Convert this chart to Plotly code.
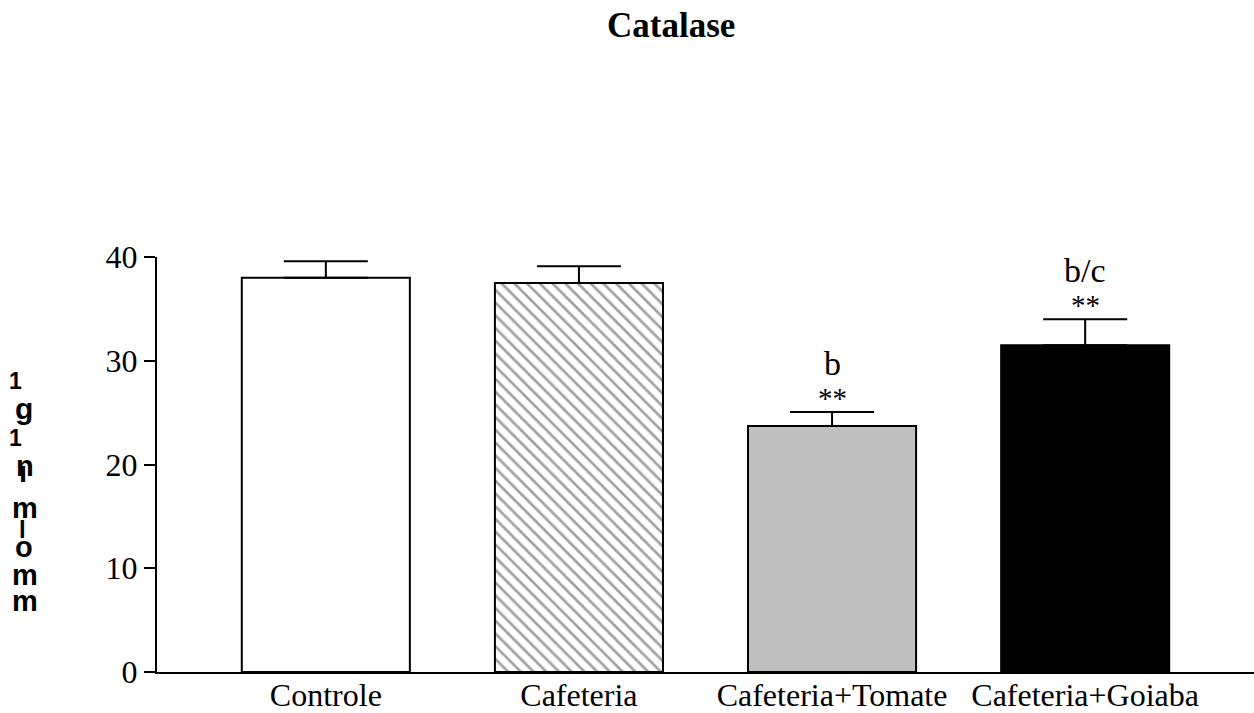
import plotly.graph_objects as go

# Catalase activity per group (mean and SEM)
groups = ["Controle", "Cafeteria", "Cafeteria+Tomate", "Cafeteria+Goiaba"]
means = [38.0, 37.5, 23.7, 31.5]
sem = [1.6, 1.6, 1.35, 2.5]
fills = ["white", "white", "#c0c0c0", "black"]
patterns = ["", "\\", "", ""]
stars = ["", "", "**", "**"]
letters = ["", "", "b", "b/c"]
y_ticks = [0, 10, 20, 30, 40]

W, H = 1254, 713
L, R, T, B = 157, 0, 257, 41
pw, ph = W - L - R, H - T - B

SERIF = "Liberation Serif, Times New Roman, serif"
SANS = "Liberation Sans, Arial, sans-serif"

fig = go.Figure()
fig.add_trace(go.Bar(
    x=list(range(len(groups))),
    y=means,
    width=0.664,
    marker=dict(
        color=fills,
        line=dict(color="black", width=2),
        pattern=dict(shape=patterns, size=9, solidity=0.3,
                     fgcolor="black", bgcolor="white"),
    ),
    error_y=dict(type="data", symmetric=False, array=sem,
                 arrayminus=[0] * len(sem), color="black",
                 thickness=2, width=42),
    cliponaxis=False,
    showlegend=False,
))

annotations = []
for i, (m, s, st, lt) in enumerate(zip(means, sem, stars, letters)):
    top = m + s
    if st:
        annotations.append(dict(x=i, y=top, xref="x", yref="y", text=st,
                                showarrow=False, yanchor="middle", yshift=14,
                                font=dict(family=SERIF, size=29, color="black")))
    if lt:
        annotations.append(dict(x=i, y=top, xref="x", yref="y", text=lt,
                                showarrow=False, yanchor="middle", yshift=49,
                                font=dict(family=SERIF, size=34, color="black")))

# Title
annotations.append(dict(x=(671 - L) / pw, y=(H - B - 25) / ph, xref="paper", yref="paper",
                        text="<b>Catalase</b>", showarrow=False,
                        xanchor="center", yanchor="middle",
                        font=dict(family=SERIF, size=35, color="black")))

# Vertical unit label, stacked glyphs
unit_glyphs = [
    ("1", 15, 381, 23), ("g", 24, 408, 30), ("1", 15, 438, 23),
    ("n", 25, 466, 29), ("ı", 23, 472, 29), ("m", 25, 508, 29),
    ("l", 22, 529, 24), ("o", 24, 547, 29), ("m", 25, 575, 29), ("m", 25, 601, 29),
]
for ch, px, py, sz in unit_glyphs:
    annotations.append(dict(x=(px - L) / pw, y=(H - B - py) / ph,
                            xref="paper", yref="paper", text="<b>" + ch + "</b>",
                            showarrow=False, xanchor="center", yanchor="middle",
                            font=dict(family=SANS, size=sz, color="black")))

fig.update_layout(
    width=W, height=H,
    margin=dict(l=L, r=R, t=T, b=B),
    paper_bgcolor="white", plot_bgcolor="white",
    annotations=annotations,
    xaxis=dict(
        range=[-0.667, 3.667], automargin=False,
        tickvals=list(range(len(groups))), ticktext=groups,
        showline=True, linecolor="black", linewidth=2,
        ticks="", showgrid=False, zeroline=False,
        ticklabelstandoff=-6,
        tickfont=dict(family=SERIF, size=32, color="black"),
    ),
    yaxis=dict(
        range=[0, 40], automargin=False,
        tickvals=y_ticks, ticktext=[str(v) for v in y_ticks],
        showline=True, linecolor="black", linewidth=2,
        ticks="outside", ticklen=11, tickwidth=2, tickcolor="black",
        showgrid=False, zeroline=False,
        tickfont=dict(family=SERIF, size=32, color="black"),
    ),
)

fig.write_html("out.html")
